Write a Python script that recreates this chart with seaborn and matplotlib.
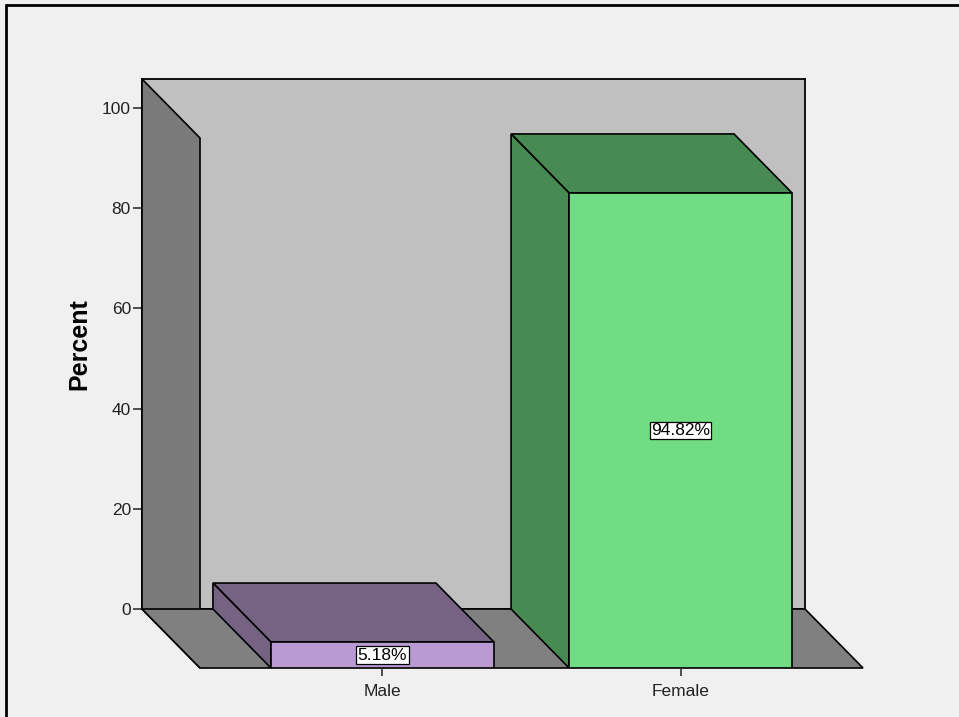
import matplotlib
matplotlib.use("Agg")
import matplotlib.pyplot as plt
from matplotlib.patches import Polygon
from matplotlib.lines import Line2D
import seaborn as sns

# Gender distribution (percent of respondents)
categories = ["Male", "Female"]
percent = [5.18, 94.82]
y_ticks = [0, 20, 40, 60, 80, 100]

front_colors = ["#b99bd2", "#70dc84"]
shade_colors = ["#766384", "#478b52"]

sns.set_style("white")
plt.rcParams["font.family"] = ["Liberation Sans", "DejaVu Sans"]

W, H, DPI = 959, 717, 100
fig = plt.figure(figsize=(W / DPI, H / DPI), dpi=DPI, facecolor="#f0f0f0")

# Plot frame geometry in pixels (back plane) and the depth offset
back_left, back_right, back_top, back_bottom = 142, 805, 79, 609
depth_x, depth_y = 58, 59
px_per_unit = 5.01
ymax = (back_bottom - back_top) / px_per_unit
xlim = (-0.612, 1.612)
bar_width = 0.748


def fig_rect(left, right, top, bottom):
    return [left / W, (H - bottom) / H, (right - left) / W, (bottom - top) / H]


# Back wall carries the value axis
ax_back = fig.add_axes(fig_rect(back_left, back_right, back_top, back_bottom))
ax_back.set_facecolor("#c0c0c0")
ax_back.set_xlim(*xlim)
ax_back.set_ylim(0, ymax)
ax_back.set_xticks([])
ax_back.set_yticks(y_ticks)
ax_back.tick_params(axis="y", left=True, length=6.5, width=1.2, color="#333333",
                    pad=1.5, labelsize=12.5, labelcolor="#222222")
for s in ax_back.spines.values():
    s.set_color("black")
    s.set_linewidth(1.3)
ax_back.set_ylabel("Percent", fontsize=18, fontweight="bold", color="black")
ax_back.yaxis.set_label_coords(-0.076, 0.5)

# Front plane carries the bars and the category axis
ax = fig.add_axes(fig_rect(back_left + depth_x, back_right + depth_x,
                           back_top + depth_y, back_bottom + depth_y))
ax.patch.set_alpha(0)
sns.barplot(x=categories, y=percent, hue=categories, palette=front_colors,
            saturation=1, width=bar_width, edgecolor="black", linewidth=1.2,
            legend=False, ax=ax)
ax.set_xlim(*xlim)
ax.set_ylim(0, ymax)
for s in ax.spines.values():
    s.set_visible(False)
ax.set_yticks([])
ax.set_xlabel("")
ax.set_ylabel("")
ax.tick_params(axis="x", bottom=True, length=6, width=1.2, color="#333333",
               pad=5.5, labelsize=12.5, labelcolor="#222222")

# Depth offset in data units of the front plane
ax_w_px = back_right - back_left
dx = depth_x * (xlim[1] - xlim[0]) / ax_w_px
dy = depth_y / px_per_unit

x0, x1 = xlim
edge = dict(edgecolor="black", linewidth=1.2, clip_on=False, joinstyle="miter")
# Left wall and floor
ax.add_patch(Polygon([(x0, 0), (x0, ymax), (x0 - dx, ymax + dy), (x0 - dx, dy)],
                     facecolor="#7a7a7a", zorder=0.5, **edge))
ax.add_patch(Polygon([(x0, 0), (x1, 0), (x1 - dx, dy), (x0 - dx, dy)],
                     facecolor="#808080", zorder=0.5, **edge))

# Top and side faces of each bar, plus value labels
for bar, val, shade in zip(ax.patches[:len(percent)], percent, shade_colors):
    bx = bar.get_x()
    bw = bar.get_width()
    h = bar.get_height()
    bar.set_zorder(3)
    ax.add_patch(Polygon([(bx, h), (bx + bw, h), (bx + bw - dx, h + dy), (bx - dx, h + dy)],
                         facecolor=shade, zorder=2, **edge))
    ax.add_patch(Polygon([(bx, 0), (bx, h), (bx - dx, h + dy), (bx - dx, dy)],
                         facecolor=shade, zorder=2, **edge))
    ax.text(bx + bw / 2, h / 2, f"{val:.2f}%", ha="center", va="center",
            fontsize=12.5, color="black", zorder=4,
            bbox=dict(boxstyle="square,pad=0.08", facecolor="white",
                      edgecolor="black", linewidth=0.9))

# Outer frame (top and left edges visible)
fig.add_artist(Line2D([6 / W, 6 / W], [0, 1 - 5 / H], transform=fig.transFigure,
                      color="black", linewidth=2))
fig.add_artist(Line2D([6 / W, 1], [1 - 5 / H, 1 - 5 / H], transform=fig.transFigure,
                      color="black", linewidth=2))

fig.savefig("out.png", dpi=DPI, facecolor=fig.get_facecolor())
